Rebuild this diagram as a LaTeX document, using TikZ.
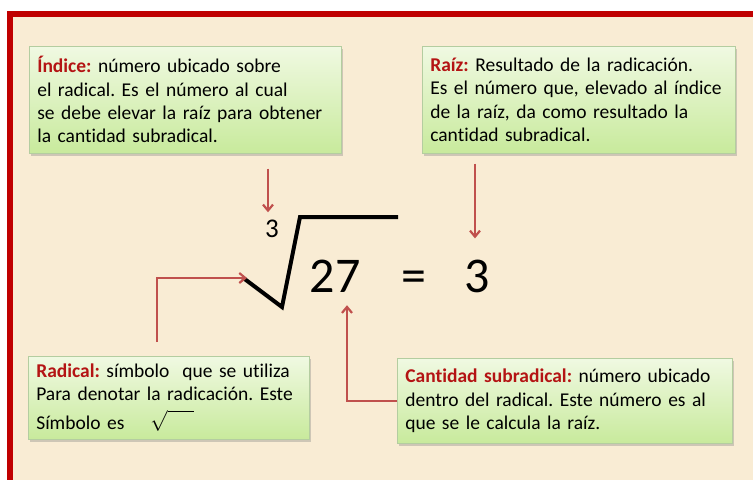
\documentclass[tikz,border=0pt]{standalone}
\usepackage{fontspec}
\setmainfont{Carlito}[Ligatures={NoCommon}]
\usetikzlibrary{arrows.meta,calc,shadows}
\definecolor{marco}{RGB}{192,0,0}
\definecolor{fondo}{RGB}{249,236,212}
\definecolor{flechacol}{RGB}{192,80,77}
\definecolor{titulo}{RGB}{180,20,20}
\definecolor{verdeA}{RGB}{240,249,226}
\definecolor{verdeB}{RGB}{200,234,156}
\definecolor{bordeverde}{RGB}{180,205,160}
\newcommand{\tit}[1]{\textcolor{titulo}{\bfseries #1}}
\frenchspacing

\begin{document}
\begin{tikzpicture}[x=1pt, y=-1pt,
  caja/.style={anchor=north west, draw=bordeverde, line width=0.6pt,
    top color=verdeA, bottom color=verdeB, align=left, inner xsep=8pt,
    font=\fontsize{19.5}{23.3}\selectfont,
    drop shadow={shadow xshift=2pt, shadow yshift=-3pt, opacity=.35}},
  flecha/.style={draw=flechacol, line width=2.2pt, -{Straight Barb[length=6pt,width=10pt]}},
  cifra/.style={anchor=base, inner sep=0pt, font=\fontsize{50}{60}\selectfont}]
  \useasboundingbox (0,0) rectangle (753,480);
  \fill[white] (0,0) rectangle (753,480);
  \fill[marco] (7,11) rectangle (753,480);
  \fill[fondo] (13,17) rectangle (753,480);

  % cajas de texto
  \node[caja, text width=296pt, minimum height=107pt] (indice) at (29,46)
    {\tit{Índice:} número ubicado sobre\\ el radical. Es el número al cual\\
     se debe elevar la raíz para obtener\\ la cantidad subradical.};
  \node[caja, text width=297pt, minimum height=107pt] (raiz) at (422,46)
    {\tit{Raíz:} Resultado de la radicación.\\ Es el número que, elevado al índice\\
     de la raíz, da como resultado la\\ cantidad subradical.};
  \node[caja, text width=265pt, minimum height=83pt] (radical) at (28,356)
    {\tit{Radical:} símbolo\ \ que se utiliza\\ Para denotar la radicación.\ Este\\[5pt]
     Símbolo es \quad$\sqrt{\vphantom{A}\hspace{26pt}}$};
  \node[caja, text width=319pt, minimum height=85pt] (cantidad) at (397,358)
    {\tit{Cantidad subradical:} número ubicado\\ dentro del radical.\ Este número es al\\
     que se le calcula la raíz.};

  % expresion
  \node[cifra] (sub) at (335,292) {27};
  \node[cifra] (igual) at (414,292) {=};
  \node[cifra] (res) at (477,292) {3};
  \node[anchor=base, inner sep=0pt, font=\fontsize{27}{30}\selectfont] (idx) at (272,237) {3};
  \coordinate (signo) at (242,277);
  \draw[line width=4pt, miter limit=10] (signo) -- (282,307) -- (300,217) -- (398,217);

  % flechas
  \draw[flecha] ($(indice.south -| idx.north)+(-4,15)$) -- ($(idx.north)+(-4,-7)$);
  \draw[flecha] ($(raiz.south -| res.north)+(-2,10)$) -- ($(res.north)+(-2,-21)$);
  \draw[flecha] ($(radical.north west)+(129,-14)$) |- ($(signo)+(5,1)$);
  \draw[flecha] (cantidad.west) -| ($(sub.south)+(12,13)$);
\end{tikzpicture}
\end{document}
